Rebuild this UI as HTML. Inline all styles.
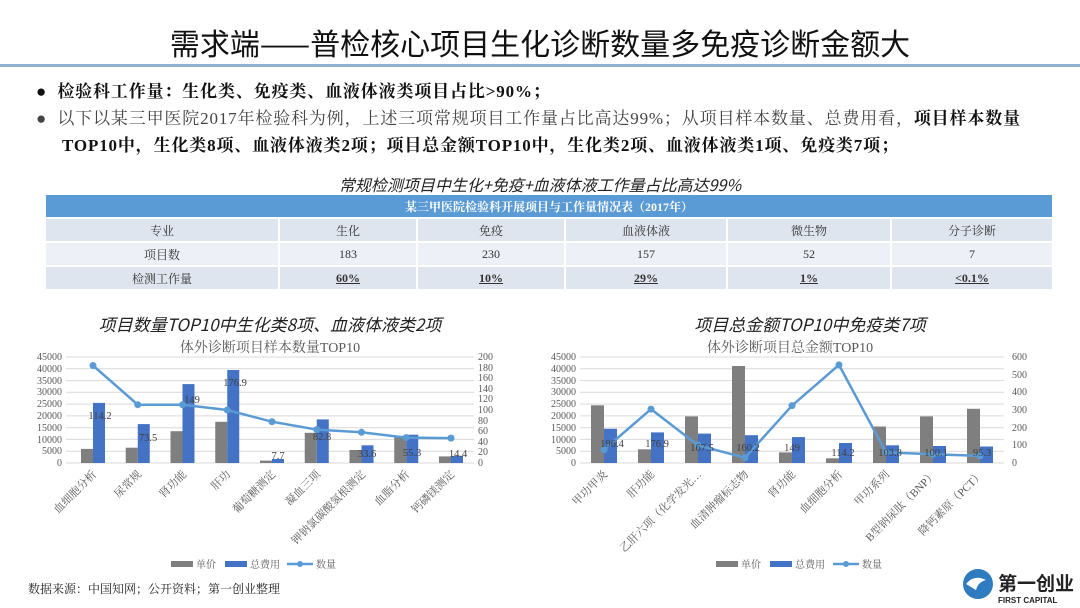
<!DOCTYPE html>
<html><head><meta charset="utf-8"><style>
body{margin:0;width:1080px;height:608px;background:#fff;overflow:hidden;position:relative;font-family:"Liberation Serif","Noto Serif CJK SC",serif;}
.a{position:absolute;white-space:nowrap}
table{border-collapse:separate;border-spacing:2px 2px;position:absolute;left:44px;top:193px;width:1010px;font-size:12px;color:#333;table-layout:fixed}
td{background:#dfe5ef;text-align:center;height:22px;padding:0}
.b{position:absolute;left:36px;font-size:17px;letter-spacing:0.85px;white-space:nowrap}
</style></head><body>
<div class="a" style="left:0;top:20px;width:1080px;text-align:center;font-size:30px;font-family:'Noto Sans CJK SC',sans-serif;color:#111">需求端——普检核心项目生化诊断数量多免疫诊断金额大</div>
<div class="a" style="left:0;top:64px;width:1080px;height:3px;background:#8fb0cf"></div>
<div class="b" style="top:77px;font-weight:bold;color:#111">●&nbsp; 检验科工作量：生化类、免疫类、血液体液类项目占比&gt;90%；</div>
<div class="b" style="top:104px;color:#444">●&nbsp; 以下以某三甲医院2017年检验科为例，上述三项常规项目工作量占比高达99%；从项目样本数量、总费用看，<b style="color:#111">项目样本数量</b></div>
<div class="b" style="left:62px;top:131px;font-weight:bold;color:#111">TOP10中，生化类8项、血液体液类2项；项目总金额TOP10中，生化类2项、血液体液类1项、免疫类7项；</div>
<div class="a" style="left:0;top:172px;width:1080px;text-align:center;font-size:16px;font-style:italic;font-family:'Noto Sans CJK SC',sans-serif;color:#222">常规检测项目中生化+免疫+血液体液工作量占比高达99%</div>
<table>
<colgroup><col style="width:232px"><col style="width:136px"><col style="width:146px"><col style="width:160px"><col style="width:162px"><col></colgroup>
<tr><td colspan="6" style="background:#5b9bd5;color:#fff;font-weight:bold;font-size:12px">某三甲医院检验科开展项目与工作量情况表（2017年）</td></tr>
<tr><td>专业</td><td>生化</td><td>免疫</td><td>血液体液</td><td>微生物</td><td>分子诊断</td></tr>
<tr><td style="background:#edf0f6">项目数</td><td style="background:#edf0f6">183</td><td style="background:#edf0f6">230</td><td style="background:#edf0f6">157</td><td style="background:#edf0f6">52</td><td style="background:#edf0f6">7</td></tr>
<tr><td>检测工作量</td><td><b><u>60%</u></b></td><td><b><u>10%</u></b></td><td><b><u>29%</u></b></td><td><b><u>1%</u></b></td><td><b><u>&lt;0.1%</u></b></td></tr>
</table>
<div class="a" style="left:0;top:311px;width:540px;text-align:center;font-size:17px;font-style:italic;font-family:'Noto Sans CJK SC',sans-serif;color:#222">项目数量TOP10中生化类8项、血液体液类2项</div>
<div class="a" style="left:540px;top:311px;width:540px;text-align:center;font-size:17px;font-style:italic;font-family:'Noto Sans CJK SC',sans-serif;color:#222">项目总金额TOP10中免疫类7项</div>
<svg class="a" style="left:0;top:0" width="1080" height="608" font-family="Liberation Serif,Noto Serif CJK SC,serif" font-size="10" fill="#595959">
<text x="270" y="352" text-anchor="middle" font-size="14">体外诊断项目样本数量TOP10</text>
<text x="790" y="352" text-anchor="middle" font-size="14">体外诊断项目总金额TOP10</text>
<g stroke="#d9d9d9" stroke-width="1">
<line x1="66" x2="474" y1="463" y2="463"/><line x1="66" x2="474" y1="451.2" y2="451.2"/><line x1="66" x2="474" y1="439.4" y2="439.4"/><line x1="66" x2="474" y1="427.7" y2="427.7"/><line x1="66" x2="474" y1="415.9" y2="415.9"/><line x1="66" x2="474" y1="404.1" y2="404.1"/><line x1="66" x2="474" y1="392.3" y2="392.3"/><line x1="66" x2="474" y1="380.6" y2="380.6"/><line x1="66" x2="474" y1="368.8" y2="368.8"/><line x1="66" x2="474" y1="357" y2="357"/>
<line x1="580" x2="1004" y1="463" y2="463"/><line x1="580" x2="1004" y1="451.2" y2="451.2"/><line x1="580" x2="1004" y1="439.4" y2="439.4"/><line x1="580" x2="1004" y1="427.7" y2="427.7"/><line x1="580" x2="1004" y1="415.9" y2="415.9"/><line x1="580" x2="1004" y1="404.1" y2="404.1"/><line x1="580" x2="1004" y1="392.3" y2="392.3"/><line x1="580" x2="1004" y1="380.6" y2="380.6"/><line x1="580" x2="1004" y1="368.8" y2="368.8"/><line x1="580" x2="1004" y1="357" y2="357"/>
</g>
<g text-anchor="end">
<text x="62" y="466">0</text><text x="62" y="454">5000</text><text x="62" y="443">10000</text><text x="62" y="431">15000</text><text x="62" y="419">20000</text><text x="62" y="407">25000</text><text x="62" y="395">30000</text><text x="62" y="384">35000</text><text x="62" y="372">40000</text><text x="62" y="360">45000</text>
<text x="576" y="466">0</text><text x="576" y="454">5000</text><text x="576" y="443">10000</text><text x="576" y="431">15000</text><text x="576" y="419">20000</text><text x="576" y="407">25000</text><text x="576" y="395">30000</text><text x="576" y="384">35000</text><text x="576" y="372">40000</text><text x="576" y="360">45000</text>
</g>
<g>
<text x="478" y="466">0</text><text x="478" y="455">20</text><text x="478" y="445">40</text><text x="478" y="434">60</text><text x="478" y="424">80</text><text x="478" y="413">100</text><text x="478" y="402">120</text><text x="478" y="392">140</text><text x="478" y="381">160</text><text x="478" y="371">180</text><text x="478" y="360">200</text>
<text x="1012" y="466">0</text><text x="1012" y="448">100</text><text x="1012" y="431">200</text><text x="1012" y="413">300</text><text x="1012" y="395">400</text><text x="1012" y="378">500</text><text x="1012" y="360">600</text>
</g>
<g fill="#7f7f7f">
<rect x="81" y="448.9" width="12" height="14.1"/><rect x="125.75" y="447.7" width="12" height="15.3"/><rect x="170.5" y="431.2" width="12" height="31.8"/><rect x="215.25" y="421.8" width="12" height="41.2"/><rect x="260" y="460.6" width="12" height="2.4"/><rect x="304.75" y="432.8" width="12" height="30.2"/><rect x="349.5" y="450" width="12" height="13"/><rect x="394.25" y="435.9" width="12" height="27.1"/><rect x="439" y="456.4" width="12" height="6.6"/>
<rect x="591" y="405.3" width="13" height="57.7"/><rect x="638" y="449.3" width="13" height="13.7"/><rect x="685" y="416.4" width="13" height="46.6"/><rect x="732" y="366" width="13" height="97"/><rect x="779" y="452.4" width="13" height="10.6"/><rect x="826" y="458.3" width="13" height="4.7"/><rect x="873" y="426.5" width="13" height="36.5"/><rect x="920" y="416.4" width="13" height="46.6"/><rect x="967" y="408.8" width="13" height="54.2"/>
</g>
<g fill="#4472c4">
<rect x="93" y="402.9" width="12" height="60.1"/><rect x="137.75" y="424.1" width="12" height="38.9"/><rect x="182.5" y="384.1" width="12" height="78.9"/><rect x="227.25" y="370" width="12" height="93"/><rect x="272" y="459" width="12" height="4"/><rect x="316.75" y="419.4" width="12" height="43.6"/><rect x="361.5" y="445.3" width="12" height="17.7"/><rect x="406.25" y="434.7" width="12" height="28.3"/><rect x="451" y="455.9" width="12" height="7.1"/>
<rect x="604" y="428.8" width="13" height="34.2"/><rect x="651" y="432.4" width="13" height="30.6"/><rect x="698" y="433.6" width="13" height="29.4"/><rect x="745" y="435.2" width="13" height="27.8"/><rect x="792" y="437.1" width="13" height="25.9"/><rect x="839" y="443" width="13" height="20"/><rect x="886" y="445.3" width="13" height="17.7"/><rect x="933" y="446" width="13" height="17"/><rect x="980" y="446.5" width="13" height="16.5"/>
</g>
<g stroke="#5b9bd5" stroke-width="2.5" fill="none"><polyline points="93,365.5 137.75,404.7 182.5,404.7 227.25,410 272,421.7 316.75,429.6 361.5,432.3 406.25,437.6 451,438.1"/><polyline points="604,449.7 651,409.1 698,445.3 745,457.7 792,405.6 839,364.9 886,452.4 933,454.2 980,455.9"/></g>
<g fill="#5b9bd5"><circle cx="93" cy="365.5" r="3.5"/><circle cx="137.75" cy="404.7" r="3.5"/><circle cx="182.5" cy="404.7" r="3.5"/><circle cx="227.25" cy="410" r="3.5"/><circle cx="272" cy="421.7" r="3.5"/><circle cx="316.75" cy="429.6" r="3.5"/><circle cx="361.5" cy="432.3" r="3.5"/><circle cx="406.25" cy="437.6" r="3.5"/><circle cx="451" cy="438.1" r="3.5"/>
<circle cx="604" cy="449.7" r="3.5"/><circle cx="651" cy="409.1" r="3.5"/><circle cx="698" cy="445.3" r="3.5"/><circle cx="745" cy="457.7" r="3.5"/><circle cx="792" cy="405.6" r="3.5"/><circle cx="839" cy="364.9" r="3.5"/><circle cx="886" cy="452.4" r="3.5"/><circle cx="933" cy="454.2" r="3.5"/><circle cx="980" cy="455.9" r="3.5"/></g>
<g fill="#404040" font-size="10.5" text-anchor="middle">
<text x="100" y="419">114.2</text><text x="148" y="441">73.5</text><text x="192" y="403">149</text><text x="235" y="386">176.9</text><text x="278" y="459">7.7</text><text x="322" y="440">82.8</text><text x="367" y="457">33.6</text><text x="412" y="456">55.3</text><text x="458" y="457">14.4</text>
<text x="612" y="447">196.4</text><text x="657" y="447">176.9</text><text x="702" y="451">167.5</text><text x="748" y="451">160.2</text><text x="792" y="451">149</text><text x="843" y="456">114.2</text><text x="890" y="456">103.8</text><text x="936" y="456">100.1</text><text x="982" y="456">95.3</text>
</g>
<g text-anchor="end" font-size="11">
<text transform="translate(97,475) rotate(-45)">血细胞分析</text><text transform="translate(142,475) rotate(-45)">尿常规</text><text transform="translate(187,475) rotate(-45)">肾功能</text><text transform="translate(231,475) rotate(-45)">肝功</text><text transform="translate(276,475) rotate(-45)">葡萄糖测定</text><text transform="translate(321,475) rotate(-45)">凝血三项</text><text transform="translate(366,475) rotate(-45)">钾钠氯碳酸氢根测定</text><text transform="translate(410,475) rotate(-45)">血脂分析</text><text transform="translate(455,475) rotate(-45)">钙磷镁测定</text>
<text transform="translate(608,475) rotate(-45)">甲功甲炎</text><text transform="translate(655,475) rotate(-45)">肝功能</text><text transform="translate(702,475) rotate(-45)">乙肝六项（化学发光…</text><text transform="translate(749,475) rotate(-45)">血清肿瘤标志物</text><text transform="translate(796,475) rotate(-45)">肾功能</text><text transform="translate(843,475) rotate(-45)">血细胞分析</text><text transform="translate(890,475) rotate(-45)">甲功系列</text><text transform="translate(937,475) rotate(-45)">B型钠尿肽（BNP）</text><text transform="translate(984,475) rotate(-45)">降钙素原（PCT）</text>
</g>
<g font-size="10">
<rect x="171" y="561" width="22" height="6" fill="#7f7f7f"/><text x="196" y="568">单价</text>
<rect x="225" y="561" width="22" height="6" fill="#4472c4"/><text x="250" y="568">总费用</text>
<line x1="287" x2="313" y1="564" y2="564" stroke="#5b9bd5" stroke-width="2.5"/><circle cx="300" cy="564" r="3" fill="#5b9bd5"/><text x="316" y="568">数量</text>
<rect x="716" y="561" width="22" height="6" fill="#7f7f7f"/><text x="741" y="568">单价</text>
<rect x="770" y="561" width="22" height="6" fill="#4472c4"/><text x="795" y="568">总费用</text>
<line x1="833" x2="859" y1="564" y2="564" stroke="#5b9bd5" stroke-width="2.5"/><circle cx="846" cy="564" r="3" fill="#5b9bd5"/><text x="862" y="568">数量</text>
</g>
<text x="28" y="593" font-size="12" fill="#222">数据来源：中国知网；公开资料；第一创业整理</text>
<circle cx="978" cy="584" r="15" fill="#2e7bc0"/><path d="M966 584 q8 -10 20 -4 q-8 2 -10 10 z" fill="#fff"/>
<text x="998" y="590" font-size="19" font-weight="bold" fill="#222" font-family="Noto Sans CJK SC,sans-serif">第一创业</text>
<text x="998" y="603" font-size="8" font-weight="bold" fill="#222" font-family="Liberation Sans,sans-serif">FIRST CAPITAL</text>
</svg>
</body></html>
